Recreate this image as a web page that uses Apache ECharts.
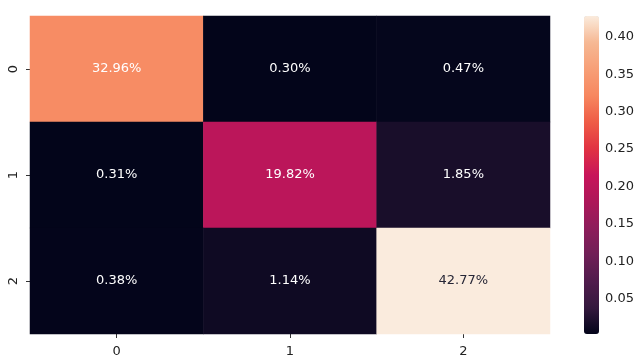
<!DOCTYPE html>
<html>
<head>
<meta charset="utf-8">
<script src="https://cdn.jsdelivr.net/npm/echarts@6/dist/echarts.min.js"></script>
<style>
  html, body { margin: 0; padding: 0; background: #fff; }
  #chart { width: 640px; height: 361px; }
</style>
</head>
<body>
<div id="chart"></div>
<script>
// confusion matrix, share of all samples
var xCats = ['0', '1', '2'];
var yCats = ['0', '1', '2'];
var row0 = [0.3296, 0.0030, 0.0047];
var row1 = [0.0031, 0.1982, 0.0185];
var row2 = [0.0038, 0.0114, 0.4277];
var barTicks = [0.05, 0.10, 0.15, 0.20, 0.25, 0.30, 0.35, 0.40];

// seaborn "rocket", 13 evenly spaced stops
var rocket = ['#03051a', '#35193e', '#511c4d', '#701f57', '#8e1d5b', '#ad1759',
              '#c8155a', '#e13342', '#ef5c46', '#f7875f', '#f79f77', '#f6b893', '#faebdd'];

var rows = [row0, row1, row2];
var cells = [];
var vMin = Infinity, vMax = -Infinity;
rows.forEach(function (r, i) {
    r.forEach(function (v, j) {
        cells.push([j, i, v]);
        vMin = Math.min(vMin, v);
        vMax = Math.max(vMax, v);
    });
});

// dark text on the lightest cell, like seaborn's auto contrast
var data = cells.map(function (c) {
    var light = (c[2] - vMin) / (vMax - vMin) > 0.85;
    return { value: c, label: { color: light ? '#262636' : '#fff' } };
});

var chart = echarts.init(document.getElementById('chart'));
var font = 'DejaVu Sans';

chart.setOption({
    backgroundColor: '#fff',
    animation: false,
    textStyle: { fontFamily: font },
    grid: [
        { left: 30, top: 16, width: 520, height: 318 },
        { left: 584, top: 16, width: 15, height: 318 }
    ],
    xAxis: [{
        type: 'category', data: xCats, gridIndex: 0,
        axisLine: { show: false },
        axisTick: { show: true, alignWithLabel: true, length: 4, lineStyle: { color: '#333' } },
        axisLabel: { color: '#222', fontSize: 13, margin: 11 },
        splitLine: { show: false }
    }, {
        type: 'value', gridIndex: 1, show: false
    }],
    yAxis: [{
        type: 'category', data: yCats, inverse: true, gridIndex: 0,
        axisLine: { show: false },
        axisTick: { show: true, alignWithLabel: true, length: 4, lineStyle: { color: '#333' } },
        axisLabel: { color: '#222', fontSize: 13, rotate: 90, margin: 10 },
        splitLine: { show: false }
    }, {
        type: 'value', gridIndex: 1, position: 'right',
        min: vMin, max: vMax,
        axisLine: { show: false },
        splitLine: { show: false },
        axisTick: { show: true, length: 4, customValues: barTicks, lineStyle: { color: '#333' } },
        axisLabel: {
            color: '#222', fontSize: 13, margin: 6, customValues: barTicks,
            formatter: function (v) { return v.toFixed(2); }
        }
    }],
    visualMap: {
        type: 'continuous',
        min: vMin, max: vMax,
        seriesIndex: 0,
        calculable: false,
        left: 584, top: 16,
        itemWidth: 15, itemHeight: 318,
        padding: 0,
        text: ['', ''],
        showLabel: false,
        inRange: { color: rocket }
    },
    series: [{
        type: 'heatmap',
        xAxisIndex: 0, yAxisIndex: 0,
        data: data,
        itemStyle: { borderWidth: 0 },
        label: {
            show: true,
            fontSize: 13,
            fontFamily: font,
            formatter: function (p) { return (p.value[2] * 100).toFixed(2) + '%'; }
        }
    }]
});
</script>
</body>
</html>
